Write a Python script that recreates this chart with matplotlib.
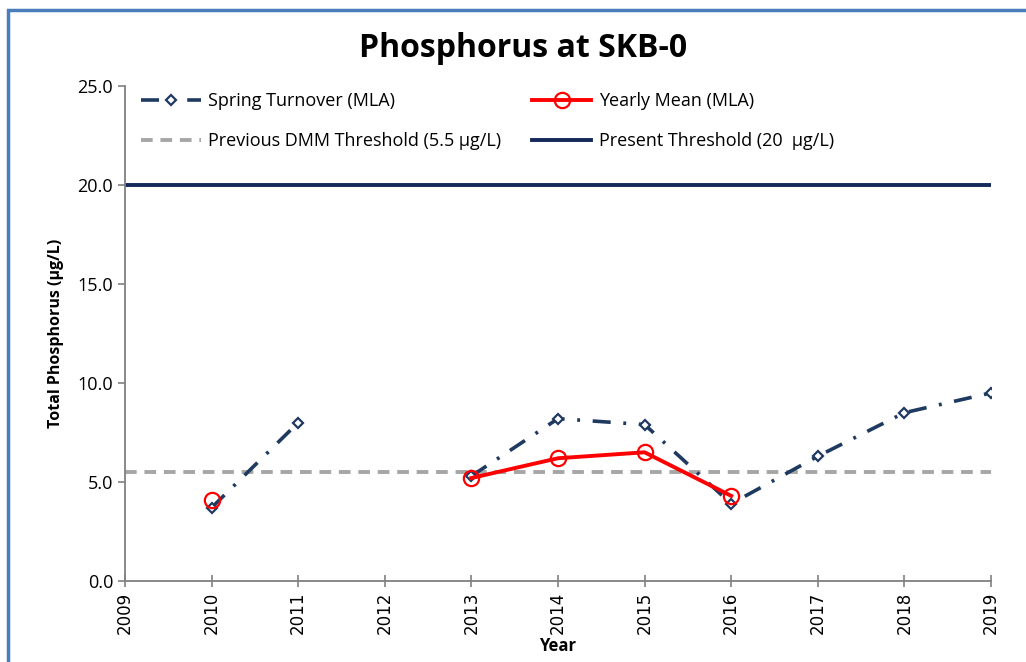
import numpy as np
import matplotlib.pyplot as plt
from matplotlib.patches import Rectangle

# Data
years = [2010, 2011, 2012, 2013, 2014, 2015, 2016, 2017, 2018, 2019]
spring = [3.7, 8.0, np.nan, 5.3, 8.2, 7.9, 3.9, 6.3, 8.5, 9.5]
mean_years = [2010, 2011, 2012, 2013, 2014, 2015, 2016]
yearly_mean = [4.1, np.nan, np.nan, 5.2, 6.2, 6.5, 4.3]
prev_threshold = 5.5
present_threshold = 20
xticks = list(range(2009, 2020))
yticks = [0, 5, 10, 15, 20, 25]

plt.rcParams['font.family'] = ['Open Sans', 'DejaVu Sans']

fig = plt.figure(figsize=(10.26, 6.62), dpi=100)
ax = fig.add_axes([0.1218, 0.1224, 0.8441, 0.7476])

# outer chart frame
fig.patches.append(Rectangle((0.008, -0.05), 1.2, 1.035, transform=fig.transFigure,
                             fill=False, edgecolor='#4a7ebb', linewidth=2.5))

ax.plot([2009, 2019], [prev_threshold] * 2, color='#a6a6a6', linestyle=(0, (3, 2)),
        linewidth=2.8, label='Previous DMM Threshold (5.5 µg/L)')
ax.plot([2009, 2019], [present_threshold] * 2, color='#14285a', linewidth=2.8,
        label='Present Threshold (20  µg/L)')
ax.plot(years, spring, color='#1f3a60', linestyle=(0, (5, 3.5, 0.8, 3.5)), linewidth=2.6,
        marker='D', markersize=5.5, markerfacecolor='white', markeredgecolor='#1f3a60',
        markeredgewidth=1.6, label='Spring Turnover (MLA)')
ax.plot(mean_years, yearly_mean, color='red', linewidth=2.8, marker='o', markersize=11,
        markerfacecolor='none', markeredgecolor='red', markeredgewidth=1.6,
        label='Yearly Mean (MLA)')

ax.set_xlim(2009, 2019)
ax.set_ylim(0, 25)
ax.set_xticks(xticks)
ax.set_xticklabels([str(x) for x in xticks], rotation=90, fontsize=12,
                   family=['DejaVu Sans'])
ax.set_yticks(yticks)
ax.set_yticklabels(['%.1f' % y for y in yticks], fontsize=13)
ax.tick_params(axis='both', color='#808080', length=5, width=1.2)
ax.tick_params(axis='x', direction='inout', length=8)
ax.tick_params(axis='y', direction='out')
for s in ['top', 'right']:
    ax.spines[s].set_visible(False)
for s in ['left', 'bottom']:
    ax.spines[s].set_color('#808080')
    ax.spines[s].set_linewidth(1.3)

ax.set_xlabel('Year', fontsize=12, fontweight='bold', labelpad=2)
ax.set_ylabel('Total Phosphorus (µg/L)', fontsize=11.5, fontweight='bold', labelpad=10)
fig.text(0.51, 0.927, 'Phosphorus at SKB-0', ha='center', va='center',
         fontsize=23, fontweight='bold')

h, l = ax.get_legend_handles_labels()
order = [2, 0, 3, 1]
ax.legend([h[i] for i in order], [l[i] for i in order], ncol=2, frameon=False,
          loc='upper left', bbox_to_anchor=(0.0, 1.02), fontsize=13,
          handlelength=3.3, columnspacing=1.7, labelspacing=1.2, handletextpad=0.4)

fig.savefig('out.png', dpi=100)
